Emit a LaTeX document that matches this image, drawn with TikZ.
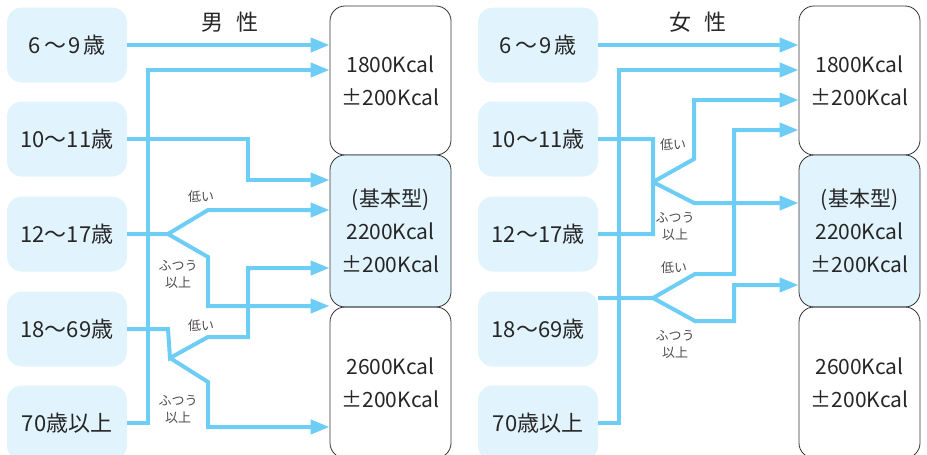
\documentclass[tikz,border=0pt]{standalone}
\usepackage{fontspec}
\setmainfont{Noto Sans CJK JP}
\usepackage{tikz}
\usetikzlibrary{calc,arrows.meta}
\definecolor{flowblue}{RGB}{110,205,245}
\definecolor{boxblue}{RGB}{225,243,252}
\newcommand{\flowwidth}{4pt}
\newcommand{\agefont}{\fontsize{22}{26}\selectfont}
\newcommand{\kcalfont}{\fontsize{21}{33}\selectfont}
\newcommand{\notefont}{\fontsize{13}{17}\selectfont}
\newcommand{\headfont}{\fontsize{22}{26}\selectfont}

\begin{document}
\begin{tikzpicture}[x=1pt,y=-1pt,
  agebox/.style={fill=boxblue, rounded corners=15pt, minimum width=120pt, minimum height=75pt, inner sep=0pt, text=black!85, font=\agefont},
  kcalbox/.style={draw=black!80, line width=0.8pt, rounded corners=15pt, minimum width=121pt, inner sep=0pt, align=center, text=black!85, font=\kcalfont},
  flow/.style={draw=flowblue, line width=\flowwidth, -{Triangle[length=19pt,width=14pt]}},
  note/.style={font=\notefont, text=black!70, align=center, inner sep=0pt},
  headline/.style={font=\headfont, text=black!85}]
\useasboundingbox (0,0) rectangle (927,455);
%male
\node[headline] (hm) at (230,22) {男\hspace{14pt}性};
\node[agebox] (m6) at (67,45) {6\hspace{4pt}～\hspace{2pt}9\hspace{3pt}歳};
\node[agebox] (m10) at (67,139) {10～11歳};
\node[agebox] (m12) at (67,234) {12～17歳};
\node[agebox] (m18) at (67,329) {18～69歳};
\node[agebox] (m70) at (67,423) {70歳以上};
\node[kcalbox, minimum height=149pt] (mk1) at (390.5,80.5) {1800Kcal\\±200Kcal};
\node[kcalbox, minimum height=152pt, fill=boxblue] (mk2) at (390.5,231) {(基本型)\\2200Kcal\\±200Kcal};
\node[kcalbox, minimum height=151pt] (mk3) at (390.5,382.5) {2600Kcal\\±200Kcal};
\coordinate (mb12) at (168,234);
\coordinate (mb18) at (170,358);
\node[note] (ml12) at (201,197) {低い};
\node[note] (mh12) at (178,274) {ふつう\\以上};
\node[note] (ml18) at (201,326) {低い};
\node[note] (mh18) at (178,409) {ふつう\\以上};
\draw[flow] (m6.east) -- (m6.east -| mk1.west);
\draw[flow] (m70.east) -- (148,423) -- (148,70) -- (mk1.west |- 0,70);
\draw[flow] (m10.east) -- (248,139) -- (248,180) -- (mk2.west |- 0,180);
\draw[flow] (m12.east) -- (mb12) -- (208,210) -- (mk2.west |- 0,210);
\draw[flow] (mb12) -- (208,257) -- (208,306) -- (mk2.west |- 0,306);
\draw[flow] (m18.east) -- (168,329) -- (mb18) -- (208,337) -- (248,337) -- (248,268) -- (mk2.west |- 0,268);
\draw[flow] (mb18) -- (208,382) -- (208,427) -- (mk3.west |- 0,427);
%female
\node[headline] (hf) at (698,22) {女\hspace{14pt}性};
\node[agebox] (f6) at (538,45) {6\hspace{4pt}～\hspace{2pt}9\hspace{3pt}歳};
\node[agebox] (f10) at (538,139) {10～11歳};
\node[agebox] (f12) at (538,234) {12～17歳};
\node[agebox] (f18) at (538,329) {18～69歳};
\node[agebox] (f70) at (538,423) {70歳以上};
\node[kcalbox, minimum height=149pt] (fk1) at (859.5,80.5) {1800Kcal\\±200Kcal};
\node[kcalbox, minimum height=152pt, fill=boxblue] (fk2) at (859.5,231) {(基本型)\\2200Kcal\\±200Kcal};
\node[kcalbox, minimum height=151pt] (fk3) at (859.5,382.5) {2600Kcal\\±200Kcal};
\coordinate (fb10) at (653,182);
\coordinate (fb18) at (653,298);
\node[note] (fl10) at (673,145) {低い};
\node[note] (fh10) at (675,226) {ふつう\\以上};
\node[note] (fl18) at (674,268) {低い};
\node[note] (fh18) at (675,344) {ふつう\\以上};
\draw[flow] (f6.east) -- (f6.east -| fk1.west);
\draw[flow] (f70.east) -- (619,423) -- (619,70) -- (fk1.west |- 0,70);
\draw[flow] (f10.east) -- (653,139) -- (fb10) -- (694,159) -- (694,100) -- (fk1.west |- 0,100);
\draw[flow] (f12.east) -- (653,234) -- (fb10) -- (694,203) -- (fk2.west |- 0,203);
\draw[flow] ([yshift=31pt]f18.east) -- (fb18) -- (695,274) -- (734,274) -- (734,130) -- (fk1.west |- 0,130);
\draw[flow] (fb18) -- (695,321) -- (734,321) -- (734,285) -- (fk2.west |- 0,285);
\end{tikzpicture}
\end{document}
